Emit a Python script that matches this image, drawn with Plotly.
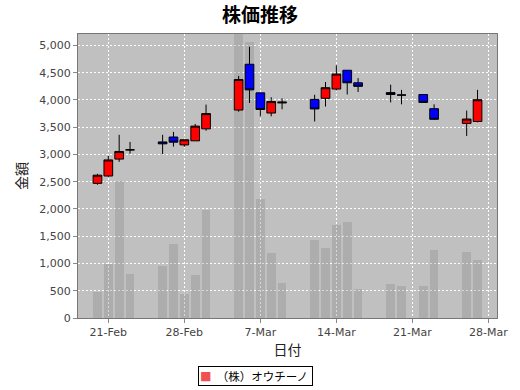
import plotly.graph_objects as go

dates = ["2018-02-20", "2018-02-21", "2018-02-22", "2018-02-23",
         "2018-02-26", "2018-02-27", "2018-02-28", "2018-03-01", "2018-03-02",
         "2018-03-05", "2018-03-06", "2018-03-07", "2018-03-08", "2018-03-09",
         "2018-03-12", "2018-03-13", "2018-03-14", "2018-03-15", "2018-03-16",
         "2018-03-19", "2018-03-20", "2018-03-22", "2018-03-23",
         "2018-03-26", "2018-03-27"]
opens = [2470, 2605, 2915, 3085,
         3230, 3320, 3175, 3250, 3470,
         3815, 4655, 4130, 3760, 3945,
         4010, 4030, 4200, 4545, 4315,
         4135, 4090, 4100, 3840,
         3570, 3605]
highs = [2645, 2975, 3360, 3230,
         3360, 3415, 3270, 3560, 3915,
         4440, 4975, 4130, 4050, 4030,
         4095, 4330, 4635, 4545, 4400,
         4280, 4185, 4100, 3920,
         3805, 4185]
lows = [2445, 2590, 2865, 3015,
        3005, 3145, 3140, 3250, 3435,
        3785, 3945, 3700, 3700, 3830,
        3605, 3880, 4175, 4100, 4145,
        3955, 3920, 3955, 3635,
        3340, 3590]
closes = [2620, 2900, 3055, 3085,
          3195, 3225, 3270, 3520, 3750,
          4375, 4185, 3825, 3970, 3960,
          3835, 4225, 4475, 4315, 4250,
          4100, 4090, 3955, 3645,
          3650, 4005]
volumes = [480, 990, 2505, 815,
           950, 1355, 432, 790, 1980,
           5600, 5070, 2190, 1200, 640,
           1422, 1290, 1705, 1755, 540,
           615, 588, 592, 1250,
           1206, 1066]

series_name = "（株）オウチーノ"
title_text = "株価推移"
x_title = "日付"
y_title = "金額"

DAY = 86400000
FONT = "DejaVu Sans, Noto Sans CJK JP, sans-serif"
CJK = "Noto Sans CJK JP, sans-serif"

fig = go.Figure()
fig.add_trace(go.Bar(
    x=dates, y=volumes, width=[0.8 * DAY] * len(dates),
    marker=dict(color="rgba(128,128,128,0.3)", line=dict(width=0)),
    showlegend=False, hoverinfo="skip"))
fig.add_trace(go.Candlestick(
    x=dates, open=opens, high=highs, low=lows, close=closes,
    increasing=dict(fillcolor="#ff0000", line=dict(color="#000000", width=1)),
    decreasing=dict(fillcolor="#0000ff", line=dict(color="#000000", width=1)),
    whiskerwidth=0, showlegend=False, name=series_name))

# legend box drawn as a bordered annotation (JFreeChart-style)
fig.add_annotation(
    xref="paper", yref="paper", x=(260 - 78) / 430, y=(318 - 376) / 284,
    xanchor="center", yanchor="middle", showarrow=False,
    text="<span style='color:#f05050'>■</span>  " + series_name + " ",
    font=dict(family=CJK, size=11.5, color="#000"),
    bordercolor="#000", borderwidth=1, borderpad=1, bgcolor="white")

fig.update_layout(
    width=520, height=390,
    margin=dict(l=78, r=12, t=34, b=72),
    paper_bgcolor="white", plot_bgcolor="#c0c0c0",
    font=dict(family=FONT, size=11, color="#444"),
    boxgap=0.2, boxgroupgap=0, bargap=0,
    showlegend=False,
    title=dict(text=title_text, x=0.5, xanchor="center", y=1 - 15 / 390,
               yanchor="middle", yref="container",
               font=dict(family=CJK, size=19, color="#000", weight="bold")),
    xaxis=dict(
        type="date", range=["2018-02-18 05:00", "2018-03-28 19:00"],
        rangeslider=dict(visible=False),
        tick0="2018-02-21", dtick=7 * DAY, tickformat="%-d-%b",
        showgrid=True, gridcolor="white", griddash="2px,2px", gridwidth=1,
        ticks="outside", ticklen=4, tickcolor="#888",
        showline=True, linecolor="#777", mirror=True,
        title=dict(text=x_title, font=dict(family=CJK, size=14, color="#222"),
                   standoff=6),
        tickfont=dict(size=11, color="#444")),
    yaxis=dict(
        range=[0, 5210], dtick=500, tickformat=",d",
        showgrid=True, gridcolor="white", griddash="2px,2px", gridwidth=1,
        zeroline=False,
        ticks="outside", ticklen=4, tickcolor="#888",
        showline=True, linecolor="#777", mirror=True,
        title=dict(text=y_title, font=dict(family=CJK, size=14, color="#222"),
                   standoff=8),
        tickfont=dict(size=11, color="#444")),
)

fig.write_html("out.html")
